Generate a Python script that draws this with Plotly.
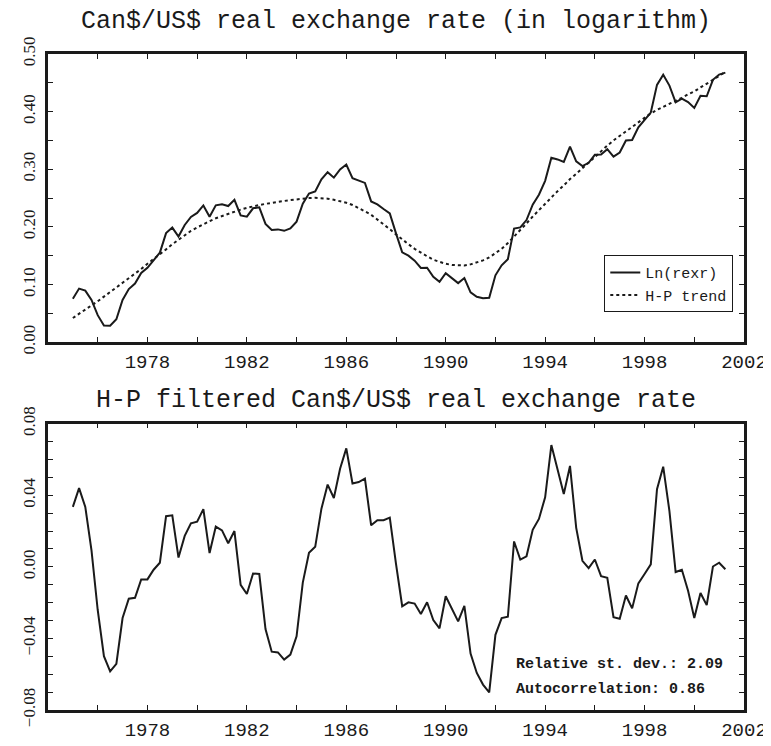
import plotly.graph_objects as go

# Quarterly observations, 1975Q1 .. 2001Q2
years = [1975 + q / 4 for q in range(106)]

ln_rexr = [
    0.0755, 0.0930, 0.0895, 0.0732, 0.0469, 0.0291, 0.0286, 0.0398, 0.0734, 0.0922,
    0.1017, 0.1200, 0.1290, 0.1424, 0.1553, 0.1893, 0.1988, 0.1832, 0.2033, 0.2173,
    0.2242, 0.2373, 0.2177, 0.2375, 0.2394, 0.2362, 0.2470, 0.2199, 0.2178, 0.2323,
    0.2340, 0.2052, 0.1946, 0.1957, 0.1932, 0.1975, 0.2092, 0.2402, 0.2579, 0.2617,
    0.2825, 0.2950, 0.2855, 0.2998, 0.3082, 0.2846, 0.2804, 0.2763, 0.2442, 0.2391,
    0.2311, 0.2235, 0.1887, 0.1560, 0.1502, 0.1415, 0.1287, 0.1292, 0.1133, 0.1046,
    0.1196, 0.1106, 0.1025, 0.1112, 0.0865, 0.0787, 0.0762, 0.0769, 0.1160, 0.1334,
    0.1441, 0.1972, 0.1991, 0.2119, 0.2387, 0.2558, 0.2799, 0.3201, 0.3171, 0.3127,
    0.3394, 0.3138, 0.3054, 0.3113, 0.3251, 0.3258, 0.3349, 0.3219, 0.3290, 0.3500,
    0.3508, 0.3728, 0.3860, 0.3984, 0.4464, 0.4640, 0.4452, 0.4161, 0.4224, 0.4167,
    0.4064, 0.4274, 0.4266, 0.4552, 0.4643, 0.4677,
]

hp_trend = [
    0.042, 0.049, 0.056, 0.064, 0.071, 0.079, 0.087, 0.094, 0.102, 0.110,
    0.119, 0.127, 0.136, 0.144, 0.153, 0.161, 0.170, 0.178, 0.186, 0.193,
    0.199, 0.205, 0.210, 0.215, 0.219, 0.223, 0.227, 0.230, 0.233, 0.236,
    0.238, 0.240, 0.242, 0.2435, 0.245, 0.2465, 0.248, 0.249, 0.250, 0.2505,
    0.250, 0.249, 0.247, 0.245, 0.242, 0.238, 0.233, 0.227, 0.221, 0.213,
    0.205, 0.196, 0.187, 0.178, 0.170, 0.162, 0.155, 0.149, 0.143, 0.139,
    0.136, 0.134, 0.133, 0.133, 0.135, 0.138, 0.142, 0.147, 0.154, 0.162,
    0.172, 0.183, 0.195, 0.206, 0.218, 0.229, 0.241, 0.252, 0.262, 0.272,
    0.283, 0.292, 0.302, 0.312, 0.321, 0.331, 0.341, 0.350, 0.358, 0.366,
    0.374, 0.382, 0.390, 0.397, 0.403, 0.408, 0.414, 0.419, 0.424, 0.430,
    0.435, 0.442, 0.448, 0.455, 0.462, 0.469,
]

hp_cycle = [
    0.0335, 0.0440, 0.0335, 0.0092, -0.0241, -0.0499, -0.0584, -0.0542, -0.0286, -0.0178,
    -0.0173, -0.0070, -0.0070, -0.0016, 0.0023, 0.0283, 0.0288, 0.0052, 0.0173, 0.0243,
    0.0252, 0.0323, 0.0077, 0.0225, 0.0204, 0.0132, 0.0200, -0.0101, -0.0152, -0.0037,
    -0.0040, -0.0348, -0.0474, -0.0478, -0.0518, -0.0490, -0.0388, -0.0088, 0.0079, 0.0112,
    0.0325, 0.0460, 0.0385, 0.0548, 0.0662, 0.0466, 0.0474, 0.0493, 0.0232, 0.0261,
    0.0261, 0.0275, 0.0017, -0.0220, -0.0198, -0.0205, -0.0263, -0.0198, -0.0297, -0.0344,
    -0.0164, -0.0234, -0.0305, -0.0218, -0.0485, -0.0593, -0.0658, -0.0701, -0.0380, -0.0286,
    -0.0279, 0.0142, 0.0041, 0.0059, 0.0207, 0.0268, 0.0389, 0.0681, 0.0551, 0.0407,
    0.0564, 0.0218, 0.0034, -0.0007, 0.0041, -0.0052, -0.0061, -0.0281, -0.0290, -0.0160,
    -0.0232, -0.0092, -0.0040, 0.0014, 0.0434, 0.0560, 0.0312, -0.0029, -0.0016, -0.0133,
    -0.0286, -0.0146, -0.0214, 0.0002, 0.0023, -0.0013,
]

# Tick positions / labels
x_tickvals = [1976, 1978, 1980, 1982, 1984, 1986, 1988, 1990, 1992, 1994, 1996, 1998, 2000, 2002]
x_ticktext = ["", "1978", "", "1982", "", "1986", "", "1990", "", "1994", "", "1998", "", "2002"]
y1_tickvals = [0.00, 0.05, 0.10, 0.15, 0.20, 0.25, 0.30, 0.35, 0.40, 0.45, 0.50]
y1_ticktext = ["0.00", "", "0.10", "", "0.20", "", "0.30", "", "0.40", "", "0.50"]
y2_tickvals = [-0.08, -0.07, -0.06, -0.05, -0.04, -0.03, -0.02, -0.01, 0.00,
               0.01, 0.02, 0.03, 0.04, 0.05, 0.06, 0.07, 0.08]
y2_ticktext = ["\u22120.08", "", "", "", "\u22120.04", "", "", "", "0.00",
               "", "", "", "0.04", "", "", "", "0.08"]

TITLE_TOP = "Can$/US$ real exchange rate (in logarithm)"
TITLE_BOTTOM = "H-P filtered Can$/US$ real exchange rate"
STATS = ["Relative st. dev.: 2.09", "Autocorrelation: 0.86"]

INK = "#1a1a1a"
MONO = "Liberation Mono, Courier New, monospace"
SERIF = "Liberation Serif, Times New Roman, serif"

fig = go.Figure()
fig.add_trace(go.Scatter(x=years, y=ln_rexr, mode="lines", name="Ln(rexr)",
                         line=dict(color=INK, width=2), xaxis="x", yaxis="y"))
fig.add_trace(go.Scatter(x=years, y=hp_trend, mode="lines", name="H-P trend",
                         line=dict(color=INK, width=2, dash="dot"), xaxis="x", yaxis="y"))
fig.add_trace(go.Scatter(x=years, y=hp_cycle, mode="lines", showlegend=False,
                         line=dict(color=INK, width=2), xaxis="x2", yaxis="y2"))

axis_common = dict(showline=True, linewidth=2.5, linecolor=INK, mirror="ticks",
                   ticks="inside", ticklen=5, tickwidth=1.2, tickcolor=INK,
                   showgrid=False, zeroline=False)

xfont = dict(family=MONO, size=19, color=INK)
yfont = dict(family=SERIF, size=17, color=INK)

fig.update_layout(
    width=771, height=746,
    margin=dict(l=31, r=27, t=46, b=24),
    paper_bgcolor="white", plot_bgcolor="white",
    xaxis=dict(domain=[0, 1], range=[1974, 2002], anchor="y",
               tickmode="array", tickvals=x_tickvals, ticktext=x_ticktext,
               tickfont=xfont, **axis_common),
    yaxis=dict(domain=[0.5607, 1], range=[0, 0.5], anchor="x",
               tickmode="array", tickvals=y1_tickvals, ticktext=y1_ticktext,
               tickangle=-90, tickfont=yfont, ticklabelstandoff=3, **axis_common),
    xaxis2=dict(domain=[0, 1], range=[1974, 2002], anchor="y2",
                tickmode="array", tickvals=x_tickvals, ticktext=x_ticktext,
                tickfont=xfont, **axis_common),
    yaxis2=dict(domain=[0, 0.4364], range=[-0.08, 0.08], anchor="x2",
                tickmode="array", tickvals=y2_tickvals, ticktext=y2_ticktext,
                tickangle=-90, tickfont=yfont, ticklabelstandoff=3, **axis_common),
    legend=dict(x=0.9846, y=0.6065, xanchor="right", yanchor="bottom",
                bgcolor="white", bordercolor=INK, borderwidth=1,
                font=dict(family=MONO, size=15, color=INK),
                tracegroupgap=0, itemwidth=30),
    showlegend=True,
    annotations=[
        dict(text=TITLE_TOP, xref="paper", yref="paper", x=0.5, y=1.049,
             xanchor="center", yanchor="middle", showarrow=False,
             font=dict(family=MONO, size=25, color=INK)),
        dict(text=TITLE_BOTTOM, xref="paper", yref="paper", x=0.5, y=0.472,
             xanchor="center", yanchor="middle", showarrow=False,
             font=dict(family=MONO, size=25, color=INK)),
        dict(text="<b>" + STATS[0] + "</b>", xref="paper", yref="paper", x=0.670, y=0.0695,
             xanchor="left", yanchor="middle", showarrow=False,
             font=dict(family=MONO, size=15, color=INK)),
        dict(text="<b>" + STATS[1] + "</b>", xref="paper", yref="paper", x=0.670, y=0.031,
             xanchor="left", yanchor="middle", showarrow=False,
             font=dict(family=MONO, size=15, color=INK)),
    ],
)

fig.write_html("out.html")
